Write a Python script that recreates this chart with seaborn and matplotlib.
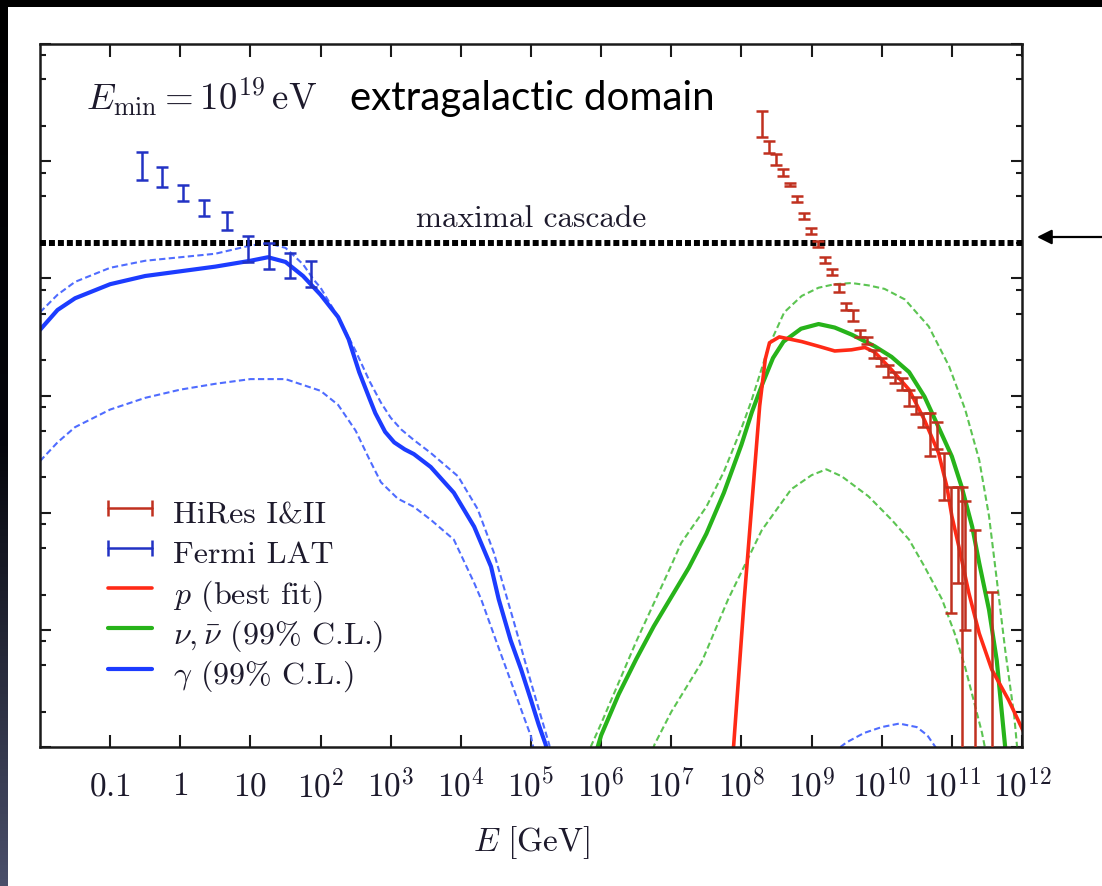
import numpy as np
import pandas as pd
import matplotlib
matplotlib.use("Agg")
import matplotlib.pyplot as plt
import matplotlib.ticker as mticker
from matplotlib.lines import Line2D
from matplotlib.patches import Rectangle
import seaborn as sns

# Energies are log10(E / GeV); fluxes are log10(E^2 J / GeV cm^-2 s^-1 sr^-1)

# gamma-ray cascade, best fit and 99% C.L. band
gam_lgE = [-2.0, -1.75, -1.5, -1.0, -0.5, 0.0, 0.5, 1.0, 1.25, 1.5, 1.75, 2.0, 2.25, 2.4,
           2.55, 2.7, 2.78, 2.92, 3.05, 3.2, 3.33, 3.57, 3.9, 4.19, 4.43, 4.54, 4.71, 4.86,
           5.0, 5.11, 5.21, 5.3]
gam_mid = [-7.44, -7.27, -7.17, -7.05, -6.98, -6.94, -6.90, -6.85, -6.82, -6.86, -6.98, -7.14,
           -7.33, -7.52, -7.80, -8.03, -8.15, -8.31, -8.40, -8.46, -8.50, -8.61, -8.83, -9.12,
           -9.46, -9.74, -10.09, -10.34, -10.60, -10.81, -10.98, -11.30]
gam_up_lgE = [-2.0, -1.75, -1.5, -1.0, -0.5, 0.0, 0.5, 1.0, 1.25, 1.5, 1.75, 1.9, 2.0, 2.25,
              2.5, 2.7, 2.86, 3.0, 3.15, 3.33, 3.57, 3.96, 4.24, 4.47, 4.75, 5.0, 5.26, 5.35]
gam_up = [-7.29, -7.14, -7.03, -6.91, -6.85, -6.82, -6.79, -6.72, -6.70, -6.74, -6.88, -7.01,
          -7.08, -7.33, -7.62, -7.88, -8.06, -8.19, -8.29, -8.38, -8.49, -8.69, -8.97, -9.34,
          -9.92, -10.45, -10.98, -11.30]
gam_lo_lgE = [-2.0, -1.75, -1.5, -1.0, -0.5, 0.0, 0.5, 1.0, 1.5, 2.0, 2.25, 2.5, 2.7, 2.86,
              3.1, 3.33, 3.57, 3.9, 4.19, 4.29, 4.5, 4.75, 5.0, 5.1]
gam_lo = [-8.56, -8.40, -8.27, -8.12, -8.02, -7.95, -7.90, -7.86, -7.86, -7.96, -8.08, -8.30,
          -8.55, -8.74, -8.88, -8.95, -9.06, -9.23, -9.60, -9.74, -10.09, -10.50, -10.91,
          -11.20]
gam_bump_lgE = [9.3, 9.5, 9.75, 10.0, 10.25, 10.5, 10.65, 10.8]
gam_bump = [-11.05, -10.96, -10.88, -10.83, -10.80, -10.83, -10.90, -11.03]

# neutrinos, best fit and 99% C.L. band
nu_lgE = [5.9, 6.0, 6.25, 6.5, 6.75, 7.0, 7.25, 7.5, 7.75, 8.0, 8.15, 8.3, 8.45, 8.6, 8.85,
          9.1, 9.33, 9.57, 9.9, 10.14, 10.39, 10.61, 10.81, 11.0, 11.14, 11.29, 11.39, 11.53,
          11.64, 11.76, 11.8]
nu_mid = [-11.1, -10.90, -10.55, -10.25, -9.97, -9.72, -9.47, -9.18, -8.83, -8.42, -8.14,
          -7.90, -7.68, -7.54, -7.43, -7.39, -7.42, -7.48, -7.58, -7.67, -7.80, -8.01, -8.27,
          -8.52, -8.78, -9.12, -9.43, -9.83, -10.26, -11.0, -11.2]
nu_up_lgE = [5.85, 6.0, 6.5, 7.0, 7.14, 7.5, 7.75, 8.0, 8.14, 8.39, 8.61, 8.86, 9.1, 9.33,
             9.57, 9.81, 10.04, 10.33, 10.67, 10.96, 11.19, 11.39, 11.53, 11.64, 11.76, 11.89,
             11.93, 12.0]
nu_up = [-11.0, -10.80, -10.10, -9.45, -9.26, -8.95, -8.65, -8.28, -8.05, -7.58, -7.29,
         -7.15, -7.08, -7.05, -7.04, -7.06, -7.09, -7.18, -7.41, -7.75, -8.12, -8.55, -9.03,
         -9.57, -10.17, -10.74, -11.0, -11.3]
nu_lo_lgE = [6.7, 6.76, 7.0, 7.43, 7.81, 8.29, 8.71, 9.0, 9.21, 9.43, 9.81, 10.14, 10.39,
             10.61, 10.86, 11.04, 11.19, 11.31, 11.43, 11.47, 11.55]
nu_lo = [-11.1, -10.98, -10.70, -10.28, -9.74, -9.15, -8.80, -8.68, -8.63, -8.69, -8.86,
         -9.06, -9.23, -9.46, -9.74, -10.03, -10.32, -10.60, -10.88, -11.0, -11.2]

# protons, best fit
p_lgE = [7.85, 7.89, 8.04, 8.26, 8.34, 8.40, 8.54, 8.86, 9.10, 9.33, 9.57, 9.76, 9.90, 10.14,
         10.39, 10.61, 10.81, 10.93, 11.0, 11.1, 11.24, 11.39, 11.57, 11.81, 12.03, 12.1]
p_mid = [-11.2, -10.98, -9.74, -8.09, -7.69, -7.55, -7.50, -7.54, -7.58, -7.62, -7.61, -7.59,
         -7.63, -7.78, -7.95, -8.21, -8.49, -8.78, -9.03, -9.29, -9.68, -10.03, -10.34, -10.60,
         -10.88, -10.95]

# Fermi LAT isotropic diffuse gamma-ray background
fermi_lgE = [-0.54, -0.26, 0.04, 0.34, 0.66, 0.96, 1.26, 1.57, 1.86]
fermi_flux = [-6.04, -6.14, -6.27, -6.40, -6.51, -6.75, -6.81, -6.89, -6.96]
fermi_low = [-6.16, -6.22, -6.34, -6.47, -6.59, -6.86, -6.92, -7.00, -7.07]
fermi_high = [-5.92, -6.05, -6.20, -6.33, -6.43, -6.64, -6.70, -6.78, -6.85]

# HiRes I & II cosmic-ray spectrum
hires_lgE = [8.29, 8.39, 8.49, 8.59, 8.69, 8.79, 8.89, 8.99, 9.09, 9.19, 9.29, 9.39, 9.49,
             9.59, 9.69, 9.79, 9.89, 9.99, 10.09, 10.19, 10.29, 10.39, 10.49, 10.59, 10.69,
             10.79, 10.89, 10.99, 11.09, 11.14, 11.19, 11.33, 11.57]
hires_flux = [-5.68, -5.88, -5.99, -6.10, -6.20, -6.32, -6.47, -6.59, -6.70, -6.85, -6.94,
              -7.09, -7.24, -7.31, -7.47, -7.53, -7.64, -7.71, -7.79, -7.84, -7.90, -8.02,
              -8.08, -8.20, -8.32, -8.35, -8.68, -9.20, -9.15, -9.40, -9.40, -9.45, -10.20]
hires_low = [-5.79, -5.93, -6.03, -6.13, -6.21, -6.35, -6.49, -6.62, -6.73, -6.87, -6.97,
             -7.12, -7.27, -7.36, -7.50, -7.56, -7.68, -7.75, -7.84, -7.89, -7.95, -8.09,
             -8.16, -8.27, -8.52, -8.46, -8.89, -9.86, -9.60, -13.0, -10.00, -13.0, -13.0]
hires_high = [-5.57, -5.83, -5.94, -6.07, -6.19, -6.30, -6.44, -6.57, -6.68, -6.82, -6.92,
              -7.05, -7.21, -7.27, -7.44, -7.50, -7.61, -7.68, -7.74, -7.80, -7.85, -7.95,
              -8.01, -8.15, -8.15, -8.23, -8.49, -8.78, -8.78, -8.78, -8.90, -9.15, -9.68]

# cascade bound on the total electromagnetic energy density
cascade_flux = -6.70

x_tick_exp = list(range(-1, 13))
x_tick_labels = ["$0.1$", "$1$", "$10$"] + [f"$10^{{{k}}}$" for k in range(2, 13)]

BLUE = "#1c3cff"
BLUE_DASH = "#4f6cff"
FERMI_C = "#2232c4"
HIRES_C = "#c0301f"
RED = "#ff2a16"
GREEN = "#27b31a"
GREEN_DASH = "#5cc452"
INK = "#1d1a2c"
CM = ["cmr10", "DejaVu Serif"]

sns.set_theme(style="white")
plt.rcParams["font.family"] = ["DejaVu Sans"]
plt.rcParams["mathtext.fontset"] = "cm"
plt.rcParams["axes.formatter.use_mathtext"] = True

fig = plt.figure(figsize=(11.02, 8.86), dpi=100)
fig.patch.set_facecolor("white")
ax = fig.add_axes([40 / 1102, 1 - 747 / 886, 982 / 1102, 703 / 886])
ax.set_facecolor("white")
ax.set_xscale("log")
ax.set_yscale("log")


def curve(lgE, lgF, color, lw, dashed=False):
    df = pd.DataFrame({"E": 10.0 ** np.asarray(lgE), "flux": 10.0 ** np.asarray(lgF)})
    ls = (0, (3.0, 1.6)) if dashed else "-"
    sns.lineplot(data=df, x="E", y="flux", ax=ax, color=color, lw=lw, linestyle=ls,
                 sort=False, estimator=None, legend=False)


def bars(lgE, lgF, lgLo, lgHi, color, cap):
    E = 10.0 ** np.asarray(lgE)
    F = 10.0 ** np.asarray(lgF)
    lo = 10.0 ** np.asarray(lgLo)
    hi = 10.0 ** np.asarray(lgHi)
    ax.errorbar(E, F, yerr=[F - lo, hi - F], fmt="none", ecolor=color, elinewidth=1.8,
                capsize=cap, capthick=1.8, zorder=4)


curve(gam_up_lgE, gam_up, BLUE_DASH, 1.5, dashed=True)
curve(gam_lo_lgE, gam_lo, BLUE_DASH, 1.5, dashed=True)
curve(gam_bump_lgE, gam_bump, BLUE_DASH, 1.5, dashed=True)
curve(gam_lgE, gam_mid, BLUE, 3.0)
curve(nu_up_lgE, nu_up, GREEN_DASH, 1.5, dashed=True)
curve(nu_lo_lgE, nu_lo, GREEN_DASH, 1.5, dashed=True)
curve(nu_lgE, nu_mid, GREEN, 3.0)
curve(p_lgE, p_mid, RED, 2.6)

bars(fermi_lgE, fermi_flux, fermi_low, fermi_high, FERMI_C, 4.0)
bars(hires_lgE, hires_flux, hires_low, hires_high, HIRES_C, 4.5)

ax.axhline(10.0 ** cascade_flux, color="black", lw=4.3, ls=(0, (1.0, 0.5)), zorder=3)
ax.text(0.5, 0.751, "maximal cascade", transform=ax.transAxes,
        ha="center", va="center", fontsize=22.5, color=INK, family=CM)

ax.text(0.047, 0.906, r"$E_{\rm min} = 10^{19}\,{\rm eV}$", transform=ax.transAxes,
        ha="left", va="baseline", fontsize=26.5, color=INK)
ax.text(0.3157, 0.906, "extragalactic domain", transform=ax.transAxes, ha="left",
        va="baseline", fontsize=29, color="black", family=["Lato", "DejaVu Sans"])

ax.set_xlim(1e-2, 1e12)
ax.set_ylim(1e-11, 1e-5)
ax.set_xticks([10.0 ** k for k in x_tick_exp])
ax.set_xticklabels(x_tick_labels)
ax.xaxis.set_minor_locator(mticker.NullLocator())
ax.yaxis.set_major_locator(mticker.LogLocator(base=10, numticks=20))
ax.yaxis.set_minor_locator(mticker.LogLocator(base=10, subs=[2.0, 5.0, 8.0], numticks=20))
ax.yaxis.set_major_formatter(mticker.NullFormatter())
ax.yaxis.set_minor_formatter(mticker.NullFormatter())
ax.tick_params(axis="both", which="both", direction="in", top=True, right=True,
               bottom=True, left=True, color="#1a1a1a", width=1.5)
ax.tick_params(axis="x", which="major", length=9, pad=16, labelsize=24, labelcolor=INK)
ax.tick_params(axis="y", which="major", length=8)
ax.tick_params(axis="y", which="minor", length=4.5)
for s in ax.spines.values():
    s.set_color("#1a1a1a")
    s.set_linewidth(1.8)
ax.set_xlabel(r"$E\ [\mathrm{GeV}]$", fontsize=24, color=INK, labelpad=14)
ax.set_ylabel("")
ax.grid(False)

handles = [
    Line2D([], [], color=HIRES_C, lw=1.8, marker="|", markersize=12, markeredgewidth=1.8),
    Line2D([], [], color=FERMI_C, lw=1.8, marker="|", markersize=12, markeredgewidth=1.8),
    Line2D([], [], color=RED, lw=2.6),
    Line2D([], [], color=GREEN, lw=3.0),
    Line2D([], [], color=BLUE, lw=3.0),
]
labels = [
    "HiRes I&II",
    "Fermi LAT",
    "$p$ (best fit)",
    r"$\nu,\bar{\nu}$ (99% C.L.)",
    r"$\gamma$ (99% C.L.)",
]
# tall handle boxes give every row the same height, whatever the label's glyphs
leg = ax.legend(handles, labels, loc="upper left", bbox_to_anchor=(0.0595, 0.3623),
                frameon=False, prop={"family": CM, "size": 23}, handlelength=1.975,
                handleheight=1.6, handletextpad=0.37, labelspacing=-0.03, borderpad=0,
                borderaxespad=0, numpoints=2)
for t in leg.get_texts():
    t.set_color(INK)

# slide border: dark strip on top, shaded strip on the left
fig.add_artist(Rectangle((0, 1 - 7 / 886), 1, 7 / 886, transform=fig.transFigure,
                         facecolor="black", edgecolor="none", zorder=10))
side = fig.add_axes([0, 0, 8 / 1102, 1 - 7 / 886])
grad = np.linspace(0, 1, 256)[:, None]
side.imshow(grad, aspect="auto", cmap=matplotlib.colors.LinearSegmentedColormap.from_list(
    "edge", ["#000000", "#05060c", "#4a4f6a"]), extent=[0, 1, 0, 1], origin="upper")
side.set_axis_off()

ax.annotate("", xy=(1037 / 1102, 1 - 237 / 886), xytext=(1.0, 1 - 237 / 886),
            xycoords="figure fraction", textcoords="figure fraction",
            arrowprops=dict(arrowstyle="-|>", color="black", lw=1.6, mutation_scale=22,
                            shrinkA=0, shrinkB=0), annotation_clip=False)

fig.savefig("out.png", dpi=100, facecolor="white")
